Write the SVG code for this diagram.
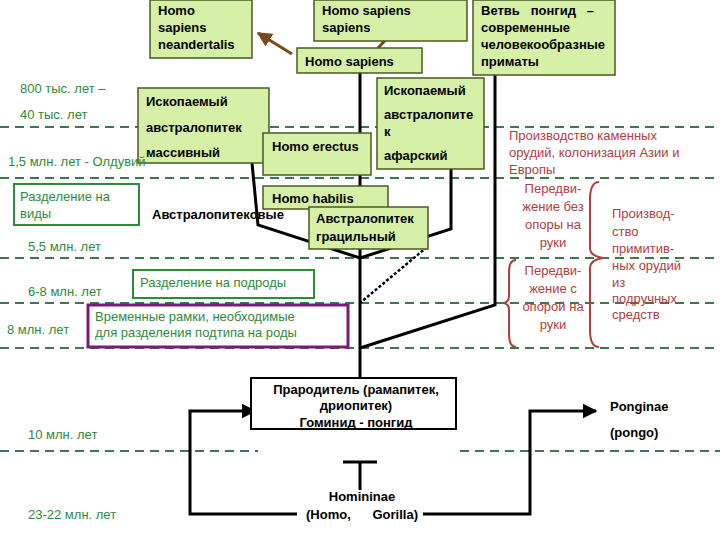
<svg xmlns="http://www.w3.org/2000/svg" width="720" height="540" viewBox="0 0 720 540">
<defs>
<marker id="ah" viewBox="0 0 10 10" refX="9" refY="5" markerWidth="5" markerHeight="5" orient="auto"><path d="M0,0L10,5L0,10z" fill="#000"/></marker>
<marker id="ab" viewBox="0 0 10 10" refX="9" refY="5" markerWidth="5" markerHeight="5" orient="auto"><path d="M0,0L10,5L0,10z" fill="#7a4a1a"/></marker>
<style>
text{font-family:"Liberation Sans",Arial,sans-serif;font-size:13px}
.b{fill:#d6f0a8;stroke:#4a5a20;stroke-width:1.5}
.k{fill:#000;font-weight:bold}
.g{fill:#2e8b3a}
.r{fill:#b04040}
.d{stroke:#3a7a4a;stroke-width:2;stroke-dasharray:9,6;fill:none}
.l{stroke:#000;stroke-width:3;fill:none}
</style>
</defs>
<rect width="720" height="540" fill="#fff"/>
<g id="grid">
<path class="d" d="M0,127H720M0,178H720M0,258H720M0,303H720M0,348H720M0,451H258M460,451H720"/>
</g>
<g id="connectors">
<path d="M292,54L258,33" stroke="#7a4a1a" stroke-width="3" marker-end="url(#ab)"/>
<path d="M378,48L393,32" stroke="#7a4a1a" stroke-width="3"/>
<path class="l" d="M360,73V133M360,175V186M360,249V429"/>
<path class="l" d="M252,163L258,225L360,258L451,229V169"/>
<path d="M427,247L360,303" stroke="#000" stroke-width="2.5" stroke-dasharray="3,2" fill="none"/>
<path class="l" d="M495,75V305L360,348"/>
<path class="l" d="M343,462H377M360,462V490"/>
<path class="l" d="M297,514H190V411H255" marker-end="url(#ah)"/>
<path class="l" d="M423,514H530V411H596" marker-end="url(#ah)"/>
<path d="M599,182Q590,182 590,200V248Q590,256 603,258Q590,260 590,268V330Q590,347 599,347" stroke="#b04040" stroke-width="2" fill="none"/>
<path d="M516,260Q509,260 509,272V296Q509,302 504,303Q509,304 509,310V334Q509,347 516,347" stroke="#b04040" stroke-width="2" fill="none"/>
</g>
<g id="n1"><rect class="b" x="150" y="0" width="102" height="58"/><text class="k" x="158" y="15">Homo</text><text class="k" x="158" y="32">sapiens</text><text class="k" x="158" y="49">neandertalis</text></g>
<g id="n2"><rect class="b" x="314" y="0" width="153" height="41"/><text class="k" x="322" y="15">Homo sapiens</text><text class="k" x="322" y="32">sapiens</text></g>
<g id="n3"><rect class="b" x="297" y="48" width="125" height="25"/><text class="k" x="305" y="66">Homo sapiens</text></g>
<g id="n4"><rect class="b" x="473" y="0" width="142" height="75"/><text class="k" x="481" y="15" xml:space="preserve">Ветвь   понгид   –</text><text class="k" x="481" y="32">современные</text><text class="k" x="481" y="49">человекообразные</text><text class="k" x="481" y="66">приматы</text></g>
<g id="n5"><rect class="b" x="138" y="88" width="131" height="75"/><text class="k" x="146" y="106">Ископаемый</text><text class="k" x="146" y="132">австралопитек</text><text class="k" x="146" y="157">массивный</text></g>
<g id="n6"><rect class="b" x="263" y="133" width="108" height="42"/><text class="k" x="272" y="151">Homo erectus</text></g>
<g id="n7"><rect class="b" x="377" y="78" width="107" height="91"/><text class="k" x="384" y="95">Ископаемый</text><text class="k" x="384" y="119">австралопите</text><text class="k" x="384" y="136">к</text><text class="k" x="384" y="160">афарский</text></g>
<g id="n8"><rect class="b" x="263" y="186" width="125" height="23"/><text class="k" x="272" y="203">Homo habilis</text></g>
<g id="n9"><rect class="b" x="309" y="207" width="119" height="42"/><text class="k" x="316" y="223">Австралопитек</text><text class="k" x="316" y="241">грацильный</text></g>
<g id="n10"><rect x="14" y="184" width="125" height="41" fill="none" stroke="#2e8b3a" stroke-width="2"/><text class="g" x="20" y="201">Разделение на</text><text class="g" x="20" y="218">виды</text></g>
<g id="n11"><rect x="133" y="270" width="181" height="28" fill="none" stroke="#2e8b3a" stroke-width="2"/><text class="g" x="140" y="287">Разделение на подроды</text></g>
<g id="n12"><rect x="88" y="305" width="260" height="42" fill="#fff" stroke="#7a1a7a" stroke-width="3"/><text class="g" x="95" y="321">Временные рамки, необходимые</text><text class="g" x="95" y="337">для разделения подтипа на роды</text></g>
<g id="n13"><rect x="251" y="378" width="205" height="51" fill="#fff" stroke="#000" stroke-width="2"/><text class="k" x="356" y="394" text-anchor="middle">Прародитель (рамапитек,</text><text class="k" x="356" y="410" text-anchor="middle">дриопитек)</text><text class="k" x="356" y="427" text-anchor="middle">Гоминид - понгид</text></g>
<g id="n14"><text class="k" x="362" y="501" text-anchor="middle">Homininae</text><text class="k" x="362" y="519" text-anchor="middle" xml:space="preserve">(Homo,      Gorilla)</text></g>
<g id="n15"><text class="k" x="610" y="411">Ponginae</text><text class="k" x="610" y="437">(pongo)</text></g>
<g id="labels">
<text class="k" x="152" y="219">Австралопитековые</text>
<text class="g" x="20" y="93">800 тыс. лет –</text>
<text class="g" x="20" y="119">40 тыс. лет</text>
<text class="g" x="8" y="166">1,5 млн. лет - Олдувий</text>
<text class="g" x="28" y="251">5,5 млн. лет</text>
<text class="g" x="28" y="296">6-8 млн. лет</text>
<text class="g" x="7" y="334">8 млн. лет</text>
<text class="g" x="28" y="439">10 млн. лет</text>
<text class="g" x="28" y="519">23-22 млн. лет</text>
<text class="r" x="509" y="140">Производство каменных</text>
<text class="r" x="509" y="157">орудий, колонизация Азии и</text>
<text class="r" x="509" y="174">Европы</text>
<g class="r" text-anchor="middle"><text x="553" y="193">Передви-</text><text x="553" y="211">жение без</text><text x="553" y="229">опоры на</text><text x="553" y="247">руки</text>
<text x="553" y="275">Передви-</text><text x="553" y="293">жение с</text><text x="553" y="311">опорой на</text><text x="553" y="329">руки</text></g>
<text class="r" x="612" y="218">Производ-</text><text class="r" x="612" y="236">ство</text><text class="r" x="612" y="253">примитив-</text><text class="r" x="612" y="270">ных орудий</text><text class="r" x="612" y="287">из</text><text class="r" x="612" y="303">подручных</text><text class="r" x="612" y="319">средств</text>
</g>
</svg>
